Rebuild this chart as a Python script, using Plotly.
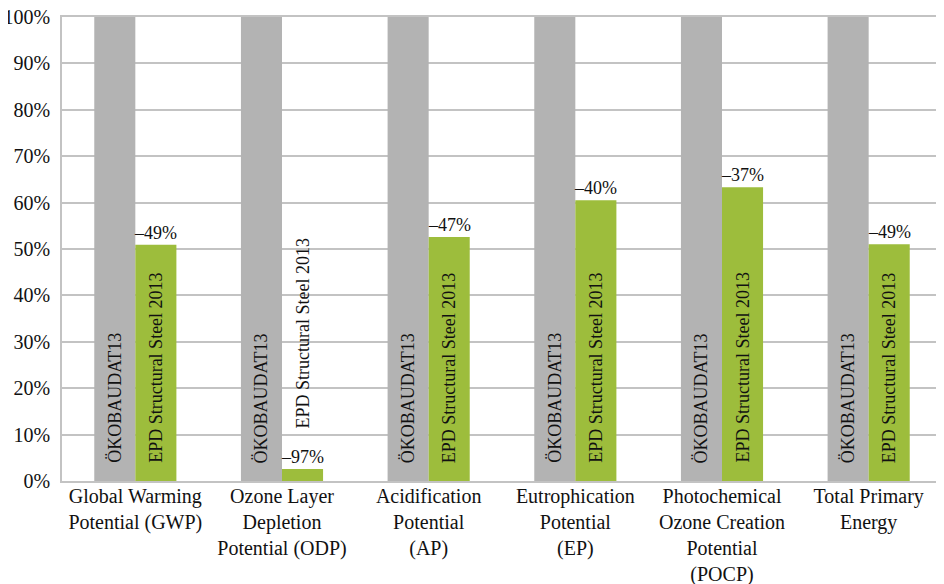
import plotly.graph_objects as go

categories = [
    "Global Warming<br>Potential (GWP)",
    "Ozone Layer<br>Depletion<br>Potential (ODP)",
    "Acidification<br>Potential<br>(AP)",
    "Eutrophication<br>Potential<br>(EP)",
    "Photochemical<br>Ozone Creation<br>Potential<br>(POCP)",
    "Total Primary<br>Energy",
]
okobaudat = [1.0, 1.0, 1.0, 1.0, 1.0, 1.0]
epd = [0.509, 0.026, 0.526, 0.605, 0.633, 0.51]
change_labels = ["–49%", "–97%", "–47%", "–40%", "–37%", "–49%"]
series_names = ["ÖKOBAUDAT13", "EPD Structural Steel 2013"]

FONT = "Liberation Serif"
GRAY = "#b3b3b3"
GREEN = "#9dbd3c"
GRID = "#c3c3c3"

xs = list(range(len(categories)))
fig = go.Figure()
fig.add_trace(go.Bar(x=xs, y=okobaudat, name=series_names[0], marker_color=GRAY, marker_line_width=0))
fig.add_trace(go.Bar(x=xs, y=epd, name=series_names[1], marker_color=GREEN, marker_line_width=0))

half = (1 - 0.44) / 4
ann = []
for i, (v, lab) in enumerate(zip(epd, change_labels)):
    ann.append(dict(x=i - half, y=0, xref="x", yref="y", text=series_names[0], textangle=-90,
                    showarrow=False, yanchor="bottom", xanchor="center", yshift=16,
                    font=dict(family=FONT, size=18, color="#111")))
    small = v < 0.1
    ann.append(dict(x=i + half, y=v if small else 0, xref="x", yref="y", text=series_names[1], textangle=-90,
                    showarrow=False, yanchor="bottom", xanchor="center", yshift=38 if small else 16,
                    font=dict(family=FONT, size=18, color="#111")))
    ann.append(dict(x=i + half, y=v, xref="x", yref="y", text=lab, showarrow=False,
                    yanchor="bottom", xanchor="center", yshift=0,
                    font=dict(family=FONT, size=18, color="#111")))

fig.update_layout(
    width=936, height=576,
    margin=dict(l=54, r=2, t=9, b=103, autoexpand=False),
    paper_bgcolor="white", plot_bgcolor="white",
    barmode="group", bargap=0.44, bargroupgap=0,
    showlegend=False,
    font=dict(family=FONT, size=20, color="#111"),
    annotations=ann,
)
fig.update_xaxes(
    tickmode="array", tickvals=xs, ticktext=categories, range=[-0.5, len(categories) - 0.5],
    showgrid=False, showline=True, linecolor=GRID, linewidth=1.5, mirror=True,
    ticks="", ticklabelstandoff=-4, ticklabeloverflow="allow",
    tickfont=dict(family=FONT, size=20, color="#111"), tickangle=0, automargin=False,
)
fig.update_yaxes(
    range=[0, 1], dtick=0.1, tickformat=".0%",
    showgrid=True, gridcolor=GRID, gridwidth=1.5,
    showline=True, linecolor=GRID, linewidth=1.5, mirror=True,
    ticks="", ticklabelstandoff=6, ticklabeloverflow="allow",
    tickfont=dict(family=FONT, size=20, color="#111"),
    zeroline=False, automargin=False,
)
fig.write_html("out.html")
